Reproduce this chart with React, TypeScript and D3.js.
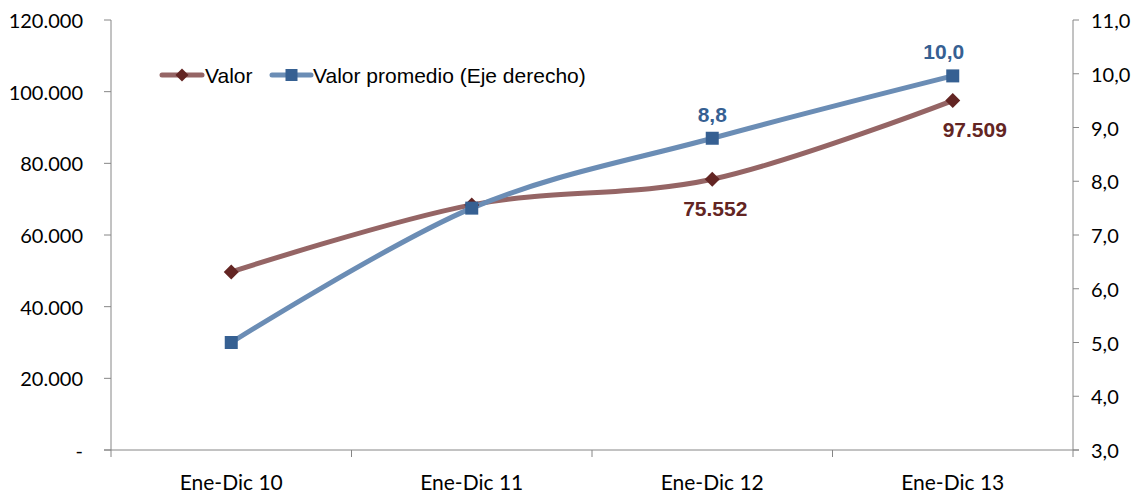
import React from "react";
import * as d3 from "d3";

const categories = ["Ene-Dic 10", "Ene-Dic 11", "Ene-Dic 12", "Ene-Dic 13"];
const valor = [49700, 68400, 75552, 97509];
const valorPromedio = [5.0, 7.5, 8.8, 9.96];
const leftTicks = [0, 20000, 40000, 60000, 80000, 100000, 120000];
const rightTicks = [3, 4, 5, 6, 7, 8, 9, 10, 11];
const valorLabels = [null, null, "75.552", "97.509"];
const promLabels = [null, null, "8,8", "10,0"];
const seriesNames = ["Valor", "Valor promedio (Eje derecho)"];

const W = 1145;
const H = 494;
const L = 111;
const R = 1073;
const T = 20;
const B = 450;

const AXIS = "#868686";
const RED_LINE = "#956565";
const RED_MARK = "#632523";
const BLUE_LINE = "#6B8DB5";
const BLUE_MARK = "#366092";
const TICK_FONT = "Lato, 'Noto Sans', sans-serif";
const ARIAL = "'Liberation Sans', Arial, sans-serif";

const fmtLeft = (v: number) =>
  v === 0 ? "-" : d3.format(",")(v).replace(/,/g, ".");
const fmtRight = (v: number) => d3.format(".1f")(v).replace(".", ",");

export default function App() {
  const x = d3.scaleBand<string>().domain(categories).range([L, R]);
  const cx = (c: string) => (x(c) as number) + x.bandwidth() / 2;
  const yL = d3.scaleLinear().domain([0, 120000]).range([B, T]);
  const yR = d3.scaleLinear().domain([3, 11]).range([B, T]);

  const curve = d3.curveCardinal.tension(0);
  const lineL = d3
    .line<number>()
    .x((_, i) => cx(categories[i]))
    .y((d) => yL(d))
    .curve(curve);
  const lineR = d3
    .line<number>()
    .x((_, i) => cx(categories[i]))
    .y((d) => yR(d))
    .curve(curve);

  const diamond = (px: number, py: number, s: number) =>
    `M${px},${py - s}L${px + s},${py}L${px},${py + s}L${px - s},${py}Z`;

  const xTicks = [L, ...categories.map((c) => (x(c) as number) + x.bandwidth())];

  return (
    <svg
      width={W}
      height={H}
      style={{ position: "absolute", left: 0, top: 0, background: "#fff" }}
    >
      {/* axes */}
      <line x1={L} y1={T} x2={L} y2={B} stroke={AXIS} strokeWidth={1} />
      <line x1={R} y1={T} x2={R} y2={B} stroke={AXIS} strokeWidth={1} />
      <line x1={L - 7} y1={B} x2={R + 6} y2={B} stroke={AXIS} strokeWidth={1} />
      {leftTicks.map((t) => (
        <g key={"l" + t}>
          <line x1={L - 7} x2={L} y1={yL(t)} y2={yL(t)} stroke={AXIS} />
          <text
            x={83}
            y={yL(t)}
            textAnchor="end"
            dominantBaseline="central"
            fontFamily={TICK_FONT}
            fontSize={20}
            fill="#000"
          >
            {fmtLeft(t)}
          </text>
        </g>
      ))}
      {rightTicks.map((t) => (
        <g key={"r" + t}>
          <line x1={R} x2={R + 6} y1={yR(t)} y2={yR(t)} stroke={AXIS} />
          <text
            x={1091}
            y={yR(t)}
            textAnchor="start"
            dominantBaseline="central"
            fontFamily={TICK_FONT}
            fontSize={20}
            fill="#000"
          >
            {fmtRight(t)}
          </text>
        </g>
      ))}
      {xTicks.map((tx, i) => (
        <line key={"x" + i} x1={tx} x2={tx} y1={B} y2={B + 7} stroke={AXIS} />
      ))}
      {categories.map((c) => (
        <text
          key={c}
          x={cx(c)}
          y={481}
          textAnchor="middle"
          dominantBaseline="central"
          fontFamily={TICK_FONT}
          fontSize={21}
          fill="#000"
        >
          {c}
        </text>
      ))}

      {/* lines */}
      <path d={lineL(valor) || ""} fill="none" stroke={RED_LINE} strokeWidth={5} strokeLinecap="round" />
      <path d={lineR(valorPromedio) || ""} fill="none" stroke={BLUE_LINE} strokeWidth={5} strokeLinecap="round" />

      {valor.map((v, i) => (
        <path key={"dm" + i} d={diamond(cx(categories[i]), yL(v), 7.5)} fill={RED_MARK} />
      ))}
      {valorPromedio.map((v, i) => (
        <rect
          key={"sq" + i}
          x={cx(categories[i]) - 6.5}
          y={yR(v) - 6.5}
          width={13}
          height={13}
          fill={BLUE_MARK}
        />
      ))}

      {/* data labels */}
      {valorLabels.map((lab, i) =>
        lab ? (
          <text
            key={"vl" + i}
            x={cx(categories[i]) + (i === 3 ? 22 : 3)}
            y={yL(valor[i]) + 29}
            textAnchor="middle"
            dominantBaseline="central"
            fontFamily={ARIAL}
            fontWeight="bold"
            fontSize={21}
            fill={RED_MARK}
          >
            {lab}
          </text>
        ) : null
      )}
      {promLabels.map((lab, i) =>
        lab ? (
          <text
            key={"pl" + i}
            x={cx(categories[i]) + (i === 3 ? -9 : 0)}
            y={yR(valorPromedio[i]) - 24}
            textAnchor="middle"
            dominantBaseline="central"
            fontFamily={ARIAL}
            fontWeight="bold"
            fontSize={21}
            fill={BLUE_MARK}
          >
            {lab}
          </text>
        ) : null
      )}

      {/* legend */}
      <g>
        <line x1={162} x2={202} y1={75} y2={75} stroke={RED_LINE} strokeWidth={5} strokeLinecap="round" />
        <path d={diamond(182, 75, 6.5)} fill={RED_MARK} />
        <text x={205} y={75} dominantBaseline="central" fontFamily={ARIAL} fontSize={21} fill="#000">
          {seriesNames[0]}
        </text>
        <line x1={272} x2={311} y1={75} y2={75} stroke={BLUE_LINE} strokeWidth={5} strokeLinecap="round" />
        <rect x={285.5} y={69} width={12} height={12} fill={BLUE_MARK} />
        <text x={313} y={75} dominantBaseline="central" fontFamily={ARIAL} fontSize={21} fill="#000">
          {seriesNames[1]}
        </text>
      </g>
    </svg>
  );
}
